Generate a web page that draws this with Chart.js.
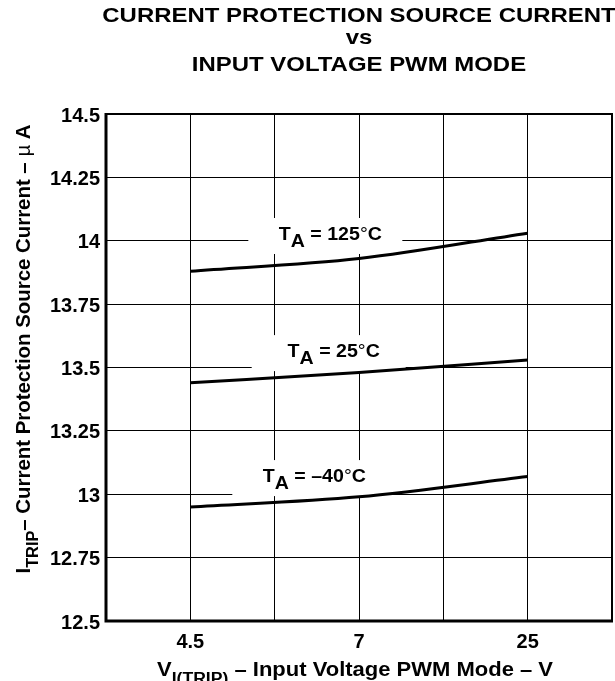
<!DOCTYPE html>
<html>
<head>
  <title>Current Protection Source Current vs Input Voltage</title>
  <script src="https://cdn.jsdelivr.net/npm/chart.js"></script>
  <style>
    body { margin: 0; background: #fff; }
  </style>
</head>
<body>
  <canvas id="myChart" width="615" height="681"></canvas>

<script>
  // input voltage categories (V) and trip current per temperature (uA)
  const vinLabels = ['4.5', '7', '25'];
  const iTrip125 = [13.88, 13.93, 14.03];
  const iTrip25 = [13.44, 13.48, 13.53];
  const iTripM40 = [12.95, 12.99, 13.07];
  const tempLabels = ['125', '25', '–40'];
  const yTicks = [12.5, 12.75, 13, 13.25, 13.5, 13.75, 14, 14.25, 14.5];

  const FONT = '"Liberation Sans", Arial, sans-serif';

  // categories sit on every other grid column (1, 3, 5 of 0..6)
  function toPoints(vals) {
    return vals.map((v, i) => ({ x: 2 * i + 1, y: v }));
  }

  function partFont(p, size, subScale) {
    const s = p.sub ? size * subScale : size;
    return `${p.light ? 'normal' : 'bold'} ${s}px ${FONT}`;
  }

  // draws text made of normal/subscript parts, optionally stretched wide
  function drawRich(ctx, parts, x, y, size, sx, align, subScale = 0.8) {
    let w = 0;
    parts.forEach(p => {
      ctx.font = partFont(p, size, subScale);
      p.w = ctx.measureText(p.t).width;
      w += p.w;
    });
    ctx.save();
    ctx.translate(x, y);
    ctx.scale(sx, 1);
    ctx.fillStyle = '#000';
    ctx.textBaseline = 'alphabetic';
    ctx.textAlign = 'left';
    let cx = align === 'center' ? -w / 2 : 0;
    parts.forEach(p => {
      ctx.font = partFont(p, size, subScale);
      ctx.fillText(p.t, cx, p.sub ? size * 0.4 : 0);
      cx += p.w;
    });
    ctx.restore();
    return w * sx;
  }

  const bgPlugin = {
    id: 'bg',
    beforeDraw(chart) {
      const ctx = chart.ctx;
      ctx.save();
      ctx.fillStyle = '#fff';
      ctx.fillRect(0, 0, chart.width, chart.height);
      ctx.restore();
    }
  };

  // temperature labels with white boxes knocking out the grid
  const labelSpots = [
    { x: 2.66, y: 14.003 },
    { x: 2.70, y: 13.541 },
    { x: 2.47, y: 13.048 }
  ];
  const curveLabelPlugin = {
    id: 'curveLabels',
    beforeDatasetsDraw(chart) {
      const ctx = chart.ctx;
      const xs = chart.scales.x, ys = chart.scales.y;
      ctx.save();
      ctx.fillStyle = '#fff';
      labelSpots.forEach(s => {
        const px = xs.getPixelForValue(s.x), py = ys.getPixelForValue(s.y);
        ctx.fillRect(px - 82, py - 22, 154, 36);
      });
      ctx.restore();
    },
    afterDatasetsDraw(chart) {
      const ctx = chart.ctx;
      const xs = chart.scales.x, ys = chart.scales.y;
      labelSpots.forEach((s, i) => {
        const px = xs.getPixelForValue(s.x), py = ys.getPixelForValue(s.y);
        drawRich(ctx, [
          { t: 'T' }, { t: 'A', sub: true },
          { t: ' = ' + tempLabels[i] }, { t: '°', light: true }, { t: 'C' }
        ], px, py, 17.5, 1.12, 'center', 1);
      });
    }
  };

  // plot frame, chart title and axis titles
  const framePlugin = {
    id: 'frame',
    afterDraw(chart) {
      const ctx = chart.ctx;
      const a = chart.chartArea;
      ctx.save();
      ctx.strokeStyle = '#000';
      ctx.lineWidth = 2;
      ctx.beginPath();
      ctx.moveTo(a.left, a.top);
      ctx.lineTo(a.right, a.top);
      ctx.lineTo(a.right, a.bottom);
      ctx.stroke();
      ctx.lineWidth = 3;
      ctx.beginPath();
      ctx.moveTo(a.left, a.top - 1);
      ctx.lineTo(a.left, a.bottom);
      ctx.lineTo(a.right + 1, a.bottom);
      ctx.stroke();
      ctx.restore();

      const cx = (a.left + a.right) / 2;
      drawRich(ctx, [{ t: 'CURRENT PROTECTION SOURCE CURRENT' }], cx, 22, 21, 1.14, 'center');
      drawRich(ctx, [{ t: 'vs' }], cx, 44, 21, 1.14, 'center');
      drawRich(ctx, [{ t: 'INPUT VOLTAGE PWM MODE' }], cx, 71, 21, 1.14, 'center');

      drawRich(ctx, [{ t: 'V' }, { t: 'I(TRIP)', sub: true }, { t: ' – Input Voltage PWM Mode – V' }], 355, 676, 20, 1.1, 'center');

      ctx.save();
      ctx.translate(30, 349);
      ctx.rotate(-Math.PI / 2);
      drawRich(ctx, [
        { t: 'I' }, { t: 'TRIP', sub: true },
        { t: '– Current Protection Source Current – ' }, { t: 'µ ', light: true }, { t: 'A' }
      ], 0, 0, 20, 1.02, 'center');
      ctx.restore();
    }
  };

  const lineStyle = {
    borderColor: '#000',
    borderWidth: 3,
    pointRadius: 0,
    fill: false,
    cubicInterpolationMode: 'monotone'
  };

  new Chart(document.getElementById('myChart'), {
    type: 'line',
    data: {
      datasets: [
        Object.assign({ label: 'TA = 125°C', data: toPoints(iTrip125) }, lineStyle),
        Object.assign({ label: 'TA = 25°C', data: toPoints(iTrip25) }, lineStyle),
        Object.assign({ label: 'TA = –40°C', data: toPoints(iTripM40) }, lineStyle)
      ]
    },
    options: {
      responsive: false,
      animation: false,
      layout: { padding: { top: 114, right: 3, left: 0, bottom: 0 } },
      plugins: {
        legend: { display: false },
        tooltip: { enabled: false },
        title: { display: false }
      },
      scales: {
        x: {
          type: 'linear',
          min: 0,
          max: 6,
          afterFit(scale) {
            scale.height = 60;
            scale.paddingLeft = 0;
            scale.paddingRight = 0;
          },
          border: { display: false },
          grid: { color: '#000', lineWidth: 1, drawTicks: false },
          ticks: {
            stepSize: 1,
            padding: 9,
            color: '#000',
            font: { family: FONT, size: 20, weight: 'bold' },
            callback: v => (v % 2 === 1 ? vinLabels[(v - 1) / 2] : '')
          }
        },
        y: {
          min: 12.5,
          max: 14.5,
          afterFit(scale) { scale.width = 106; },
          afterBuildTicks(scale) { scale.ticks = yTicks.map(v => ({ value: v })); },
          border: { display: false },
          grid: { color: '#000', lineWidth: 1, drawTicks: false },
          ticks: {
            padding: 6,
            labelOffset: 2,
            color: '#000',
            font: { family: FONT, size: 20, weight: 'bold' },
            callback: v => String(v)
          }
        }
      }
    },
    plugins: [bgPlugin, curveLabelPlugin, framePlugin]
  });
</script>
</body>
</html>
